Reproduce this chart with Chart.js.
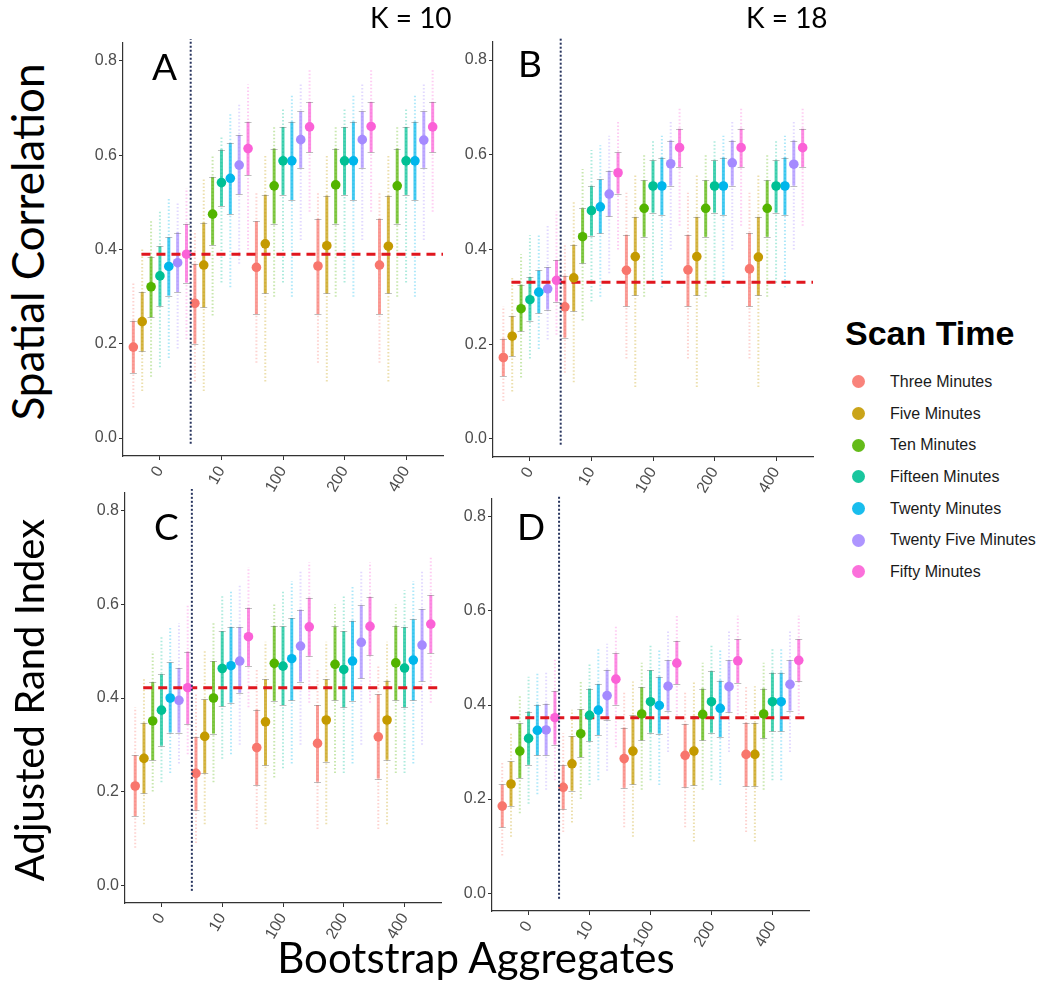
<!DOCTYPE html>
<html>
<head>
<meta charset="utf-8">
<script src="https://cdn.jsdelivr.net/npm/chart.js@4.4.0/dist/chart.umd.min.js"></script>
<style>
  body { margin: 0; background: #fff; }
  #wrap { position: relative; width: 1050px; height: 988px; overflow: hidden; font-family: 'Liberation Sans', Arial, sans-serif; }
  canvas { position: absolute; }
  .txt { position: absolute; white-space: nowrap; line-height: 1; color: #000; }
  .cal { font-family: Lato, 'Open Sans', sans-serif; }
  .rot { transform: translate(-50%, -50%) rotate(-90deg); }
  #legend { position: absolute; left: 845px; top: 316px; }
  #legend .title { font-weight: bold; font-size: 34px; line-height: 1; margin-bottom: 16px; }
  #legend .row { display: flex; align-items: center; height: 31.7px; font-size: 16px; color: #1a1a1a; }
  #legend .dot { width: 13px; height: 13px; border-radius: 50%; margin-left: 7px; margin-right: 25px; opacity: 0.9; }
</style>
</head>
<body>
<div id="wrap">
  <canvas id="panelA"></canvas>
  <canvas id="panelB"></canvas>
  <canvas id="panelC"></canvas>
  <canvas id="panelD"></canvas>

  <div class="txt cal" style="left:370px; top:3px; font-size:28px;">K = 10</div>
  <div class="txt cal" style="left:746px; top:3px; font-size:28px;">K = 18</div>

  <div class="txt cal" style="left:152px; top:47px; font-size:37px;">A</div>
  <div class="txt cal" style="left:518px; top:44px; font-size:37px;">B</div>
  <div class="txt cal" style="left:154px; top:507px; font-size:37px;">C</div>
  <div class="txt cal" style="left:517px; top:507px; font-size:37px;">D</div>

  <div class="txt cal rot" style="left:27px; top:242px; font-size:44px;">Spatial Correlation</div>
  <div class="txt cal rot" style="left:29px; top:700px; font-size:40px;">Adjusted Rand Index</div>
  <div class="txt cal" style="left:476px; top:936px; font-size:42px; transform: translateX(-50%);">Bootstrap Aggregates</div>

  <div id="legend"><div class="title">Scan Time</div></div>
</div>

<script>
const groups = ['0', '10', '100', '200', '400'];
const scanTimes = ['Three Minutes', 'Five Minutes', 'Ten Minutes', 'Fifteen Minutes',
                   'Twenty Minutes', 'Twenty Five Minutes', 'Fifty Minutes'];
const yTicks = [0, 0.2, 0.4, 0.6, 0.8];

// Panel A - spatial correlation, K = 10 (rows = scan time, cols = group)
const meanA = [
  [0.193, 0.286, 0.362, 0.365, 0.367],
  [0.247, 0.367, 0.412, 0.408, 0.407],
  [0.321, 0.475, 0.535, 0.537, 0.535],
  [0.344, 0.542, 0.588, 0.588, 0.588],
  [0.364, 0.551, 0.588, 0.588, 0.588],
  [0.372, 0.579, 0.633, 0.633, 0.632],
  [0.390, 0.614, 0.660, 0.661, 0.660]
];
const lowA = [
  [0.138, 0.200, 0.263, 0.263, 0.263],
  [0.184, 0.277, 0.307, 0.307, 0.307],
  [0.256, 0.410, 0.455, 0.455, 0.455],
  [0.280, 0.492, 0.516, 0.516, 0.516],
  [0.302, 0.475, 0.505, 0.505, 0.505],
  [0.310, 0.517, 0.573, 0.573, 0.573],
  [0.330, 0.558, 0.606, 0.606, 0.606]
];
const highA = [
  [0.249, 0.370, 0.460, 0.465, 0.465],
  [0.310, 0.457, 0.516, 0.514, 0.514],
  [0.385, 0.554, 0.614, 0.614, 0.614],
  [0.407, 0.612, 0.660, 0.660, 0.660],
  [0.426, 0.626, 0.671, 0.671, 0.671],
  [0.436, 0.643, 0.693, 0.693, 0.693],
  [0.454, 0.671, 0.713, 0.713, 0.713]
];
const minA = [
  [0.065, 0.12, 0.16, 0.16, 0.16],
  [0.10, 0.10, 0.12, 0.12, 0.12],
  [0.13, 0.26, 0.30, 0.30, 0.30],
  [0.15, 0.33, 0.33, 0.33, 0.33],
  [0.17, 0.32, 0.30, 0.30, 0.30],
  [0.19, 0.37, 0.42, 0.42, 0.42],
  [0.21, 0.40, 0.48, 0.48, 0.48]
];
const maxA = [
  [0.33, 0.44, 0.52, 0.52, 0.52],
  [0.40, 0.55, 0.60, 0.60, 0.60],
  [0.46, 0.60, 0.66, 0.66, 0.66],
  [0.48, 0.64, 0.70, 0.70, 0.70],
  [0.51, 0.69, 0.73, 0.73, 0.73],
  [0.50, 0.71, 0.75, 0.75, 0.75],
  [0.53, 0.75, 0.78, 0.78, 0.78]
];
const refA = 0.39;

// Panel B - spatial correlation, K = 18
const meanB = [
  [0.172, 0.279, 0.356, 0.357, 0.359],
  [0.217, 0.340, 0.385, 0.385, 0.384],
  [0.275, 0.427, 0.487, 0.487, 0.487],
  [0.294, 0.482, 0.534, 0.534, 0.534],
  [0.310, 0.490, 0.534, 0.534, 0.534],
  [0.317, 0.517, 0.581, 0.583, 0.580],
  [0.335, 0.562, 0.615, 0.615, 0.615]
];
const lowB = [
  [0.133, 0.214, 0.280, 0.280, 0.280],
  [0.175, 0.270, 0.303, 0.303, 0.303],
  [0.228, 0.371, 0.427, 0.427, 0.427],
  [0.250, 0.429, 0.478, 0.478, 0.478],
  [0.266, 0.434, 0.473, 0.473, 0.473],
  [0.273, 0.470, 0.535, 0.535, 0.535],
  [0.290, 0.518, 0.574, 0.574, 0.574]
];
const highB = [
  [0.212, 0.345, 0.431, 0.431, 0.435],
  [0.260, 0.410, 0.469, 0.469, 0.469],
  [0.326, 0.487, 0.546, 0.546, 0.546],
  [0.342, 0.534, 0.588, 0.588, 0.588],
  [0.356, 0.548, 0.594, 0.594, 0.594],
  [0.363, 0.566, 0.630, 0.630, 0.630],
  [0.378, 0.605, 0.655, 0.655, 0.655]
];
const minB = [
  [0.08, 0.14, 0.17, 0.17, 0.17],
  [0.10, 0.12, 0.11, 0.11, 0.11],
  [0.13, 0.25, 0.30, 0.30, 0.30],
  [0.17, 0.29, 0.33, 0.33, 0.33],
  [0.19, 0.30, 0.32, 0.32, 0.32],
  [0.21, 0.35, 0.40, 0.40, 0.40],
  [0.22, 0.40, 0.45, 0.45, 0.45]
];
const maxB = [
  [0.28, 0.41, 0.52, 0.52, 0.52],
  [0.34, 0.50, 0.56, 0.56, 0.56],
  [0.39, 0.57, 0.60, 0.60, 0.60],
  [0.43, 0.61, 0.63, 0.63, 0.63],
  [0.43, 0.62, 0.64, 0.64, 0.64],
  [0.45, 0.64, 0.67, 0.67, 0.67],
  [0.48, 0.67, 0.70, 0.70, 0.70]
];
const refB = 0.331;

// Panel C - adjusted rand index, K = 10
const meanC = [
  [0.212, 0.239, 0.294, 0.303, 0.317],
  [0.271, 0.318, 0.349, 0.353, 0.353],
  [0.351, 0.400, 0.474, 0.472, 0.475],
  [0.374, 0.463, 0.468, 0.461, 0.464],
  [0.400, 0.469, 0.484, 0.479, 0.481],
  [0.395, 0.479, 0.511, 0.519, 0.513],
  [0.422, 0.531, 0.552, 0.553, 0.558]
];
const lowC = [
  [0.148, 0.160, 0.214, 0.221, 0.228],
  [0.196, 0.239, 0.256, 0.264, 0.268],
  [0.267, 0.324, 0.394, 0.395, 0.395],
  [0.298, 0.382, 0.385, 0.380, 0.380],
  [0.326, 0.390, 0.395, 0.394, 0.395],
  [0.326, 0.411, 0.435, 0.442, 0.436],
  [0.344, 0.468, 0.490, 0.491, 0.496]
];
const highC = [
  [0.278, 0.317, 0.375, 0.385, 0.408],
  [0.347, 0.397, 0.440, 0.440, 0.437],
  [0.434, 0.479, 0.554, 0.553, 0.554],
  [0.451, 0.543, 0.553, 0.543, 0.552],
  [0.476, 0.552, 0.571, 0.565, 0.568],
  [0.464, 0.552, 0.589, 0.598, 0.590],
  [0.499, 0.593, 0.614, 0.616, 0.620]
];
const minC = [
  [0.08, 0.09, 0.12, 0.12, 0.12],
  [0.13, 0.13, 0.13, 0.13, 0.13],
  [0.20, 0.22, 0.23, 0.24, 0.24],
  [0.22, 0.27, 0.25, 0.24, 0.24],
  [0.24, 0.28, 0.26, 0.26, 0.26],
  [0.26, 0.30, 0.30, 0.30, 0.30],
  [0.28, 0.38, 0.39, 0.39, 0.39]
];
const maxC = [
  [0.38, 0.41, 0.46, 0.46, 0.47],
  [0.44, 0.50, 0.52, 0.52, 0.52],
  [0.50, 0.56, 0.60, 0.60, 0.60],
  [0.53, 0.62, 0.63, 0.62, 0.63],
  [0.55, 0.63, 0.65, 0.64, 0.65],
  [0.56, 0.64, 0.67, 0.67, 0.67],
  [0.60, 0.68, 0.69, 0.69, 0.70]
];
const refC = 0.422;

// Panel D - adjusted rand index, K = 18
const meanD = [
  [0.185, 0.225, 0.286, 0.293, 0.295],
  [0.232, 0.275, 0.302, 0.302, 0.295],
  [0.302, 0.339, 0.381, 0.380, 0.381],
  [0.329, 0.378, 0.407, 0.407, 0.407],
  [0.346, 0.389, 0.399, 0.393, 0.407],
  [0.347, 0.420, 0.440, 0.439, 0.444],
  [0.373, 0.455, 0.489, 0.494, 0.495]
];
const lowD = [
  [0.140, 0.178, 0.224, 0.225, 0.227],
  [0.185, 0.218, 0.231, 0.229, 0.227],
  [0.245, 0.289, 0.325, 0.325, 0.329],
  [0.273, 0.323, 0.341, 0.341, 0.344],
  [0.293, 0.336, 0.339, 0.332, 0.344],
  [0.293, 0.369, 0.388, 0.385, 0.388],
  [0.316, 0.401, 0.444, 0.447, 0.450]
];
const highD = [
  [0.231, 0.272, 0.352, 0.360, 0.362],
  [0.280, 0.334, 0.378, 0.377, 0.362],
  [0.361, 0.391, 0.438, 0.435, 0.435],
  [0.386, 0.435, 0.474, 0.472, 0.469],
  [0.401, 0.445, 0.460, 0.452, 0.469],
  [0.403, 0.475, 0.495, 0.495, 0.495],
  [0.430, 0.510, 0.536, 0.540, 0.540]
];
const minD = [
  [0.08, 0.13, 0.14, 0.14, 0.13],
  [0.12, 0.15, 0.12, 0.11, 0.11],
  [0.17, 0.20, 0.22, 0.22, 0.22],
  [0.19, 0.23, 0.24, 0.24, 0.24],
  [0.21, 0.24, 0.23, 0.23, 0.24],
  [0.22, 0.26, 0.30, 0.30, 0.30],
  [0.24, 0.31, 0.37, 0.38, 0.38]
];
const maxD = [
  [0.28, 0.34, 0.43, 0.43, 0.44],
  [0.34, 0.39, 0.45, 0.45, 0.44],
  [0.42, 0.45, 0.49, 0.49, 0.49],
  [0.46, 0.49, 0.53, 0.53, 0.52],
  [0.47, 0.52, 0.52, 0.52, 0.52],
  [0.47, 0.53, 0.56, 0.56, 0.56],
  [0.50, 0.57, 0.59, 0.59, 0.59]
];
const refD = 0.373;

const colors = ['#F8766D', '#C49A00', '#53B400', '#00C094', '#00B6EB', '#A58AFF', '#FB61D7'];
const dodge = 0.144;
const splitAt = 0.5;

function rgba(hex, a) {
    const n = parseInt(hex.slice(1), 16);
    return `rgba(${n >> 16}, ${(n >> 8) & 255}, ${n & 255}, ${a})`;
}

// Legend
const legend = document.getElementById('legend');
scanTimes.forEach((name, i) => {
    const row = document.createElement('div');
    row.className = 'row';
    row.innerHTML = `<span class="dot" style="background:${colors[i]}"></span>${name}`;
    legend.appendChild(row);
});

// Error bars, reference lines and the split line
const intervalPlugin = {
    id: 'intervals',
    beforeDatasetsDraw(chart) {
        const { ctx, chartArea, scales: { x, y } } = chart;
        ctx.save();
        chart.data.datasets.forEach(ds => {
            ds.data.forEach((pt, i) => {
                const px = x.getPixelForValue(pt.x);
                // spread of bootstrap values
                ctx.strokeStyle = rgba(ds.color, 0.32);
                ctx.lineWidth = 2;
                ctx.setLineDash([1.5, 2]);
                ctx.beginPath();
                ctx.moveTo(px, y.getPixelForValue(ds.min[i]));
                ctx.lineTo(px, y.getPixelForValue(ds.max[i]));
                ctx.stroke();
                ctx.setLineDash([]);
                // inner interval
                ctx.strokeStyle = rgba(ds.color, 0.7);
                ctx.lineWidth = 3;
                ctx.beginPath();
                ctx.moveTo(px, y.getPixelForValue(ds.lo[i]));
                ctx.lineTo(px, y.getPixelForValue(ds.hi[i]));
                ctx.stroke();
                // small caps
                ctx.strokeStyle = 'rgba(110, 110, 110, 0.45)';
                ctx.lineWidth = 1;
                [ds.lo[i], ds.hi[i]].forEach(v => {
                    const py = Math.round(y.getPixelForValue(v)) + 0.5;
                    ctx.beginPath();
                    ctx.moveTo(px - 3.5, py);
                    ctx.lineTo(px + 3.5, py);
                    ctx.stroke();
                });
            });
        });
        // reference line
        const ref = chart.options.plugins.intervals.ref;
        const ry = y.getPixelForValue(ref);
        ctx.strokeStyle = '#E0161E';
        ctx.lineWidth = 3;
        ctx.setLineDash([9, 6]);
        ctx.beginPath();
        ctx.moveTo(x.getPixelForValue(-0.3), ry);
        ctx.lineTo(chartArea.right, ry);
        ctx.stroke();
        ctx.restore();
    },
    afterDatasetsDraw(chart) {
        const { ctx, chartArea, scales: { x, y } } = chart;
        const px = x.getPixelForValue(splitAt);
        ctx.save();
        ctx.strokeStyle = '#27345E';
        ctx.lineWidth = 2;
        ctx.setLineDash([2, 2]);
        ctx.beginPath();
        ctx.moveTo(px, y.getPixelForValue(-0.012));
        ctx.lineTo(px, chartArea.top - 4);
        ctx.stroke();
        ctx.restore();
    }
};

const tickFont = { family: "'Liberation Sans', Arial, sans-serif", size: 16 };
const padT = 12, padR = 10, yW = 63, xH = 52;

function makePanel(id, area, mean, lo, hi, mn, mx, ref) {
    const canvas = document.getElementById(id);
    const left = area.l - yW, top = area.t - padT;
    const w = area.r + padR - left, h = area.b + xH - top;
    canvas.width = w;
    canvas.height = h;
    canvas.style.left = left + 'px';
    canvas.style.top = top + 'px';
    canvas.style.width = w + 'px';
    canvas.style.height = h + 'px';

    const datasets = scanTimes.map((name, s) => ({
        label: name,
        color: colors[s],
        lo: lo[s], hi: hi[s], min: mn[s], max: mx[s],
        data: groups.map((g, gi) => ({ x: gi + (s - 3) * dodge, y: mean[s][gi] })),
        backgroundColor: colors[s],
        pointRadius: 4.8,
        pointBorderWidth: 0
    }));

    return new Chart(canvas.getContext('2d'), {
        type: 'scatter',
        data: { datasets },
        options: {
            responsive: false,
            animation: false,
            devicePixelRatio: 1,
            events: [],
            layout: { padding: { top: padT, right: padR, left: 0, bottom: 0 } },
            plugins: {
                legend: { display: false },
                tooltip: { enabled: false },
                intervals: { ref }
            },
            scales: {
                x: {
                    type: 'linear',
                    min: -0.6, max: 4.6,
                    afterBuildTicks: s => { s.ticks = groups.map((g, i) => ({ value: i })); },
                    afterFit: s => { s.height = xH; },
                    ticks: {
                        autoSkip: false,
                        minRotation: 60, maxRotation: 60,
                        font: tickFont, color: '#4d4d4d', padding: 3,
                        callback: v => groups[v]
                    },
                    grid: { display: true, drawOnChartArea: false, tickLength: 4, tickColor: '#333' },
                    border: { display: true, color: '#333', width: 1.2 }
                },
                y: {
                    type: 'linear',
                    min: -0.038, max: 0.838,
                    afterBuildTicks: s => { s.ticks = yTicks.map(v => ({ value: v })); },
                    afterFit: s => { s.width = yW; },
                    ticks: {
                        font: tickFont, color: '#4d4d4d', padding: 2,
                        callback: v => v.toFixed(1)
                    },
                    grid: { display: true, drawOnChartArea: false, tickLength: 4, tickColor: '#333' },
                    border: { display: true, color: '#333', width: 1.2 }
                }
            }
        },
        plugins: [intervalPlugin]
    });
}

makePanel('panelA', { l: 123, t: 43, r: 443, b: 456 }, meanA, lowA, highA, minA, maxA, refA);
makePanel('panelB', { l: 493, t: 42, r: 813, b: 457 }, meanB, lowB, highB, minB, maxB, refB);
makePanel('panelC', { l: 125, t: 493, r: 441, b: 903 }, meanC, lowC, highC, minC, maxC, refC);
makePanel('panelD', { l: 492, t: 499, r: 809, b: 911 }, meanD, lowD, highD, minD, maxD, refD);
</script>
</body>
</html>
